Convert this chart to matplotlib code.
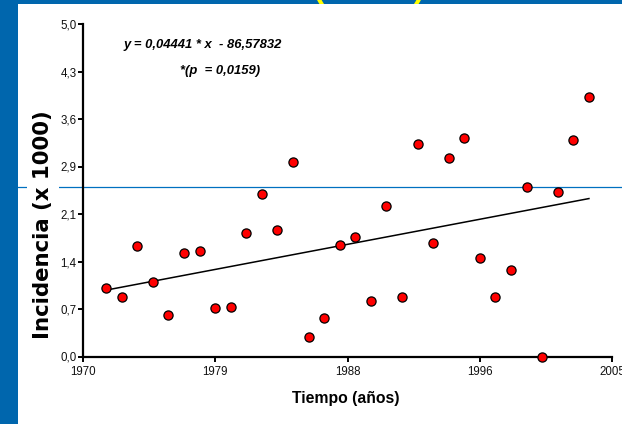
import matplotlib
matplotlib.use('Agg')
import matplotlib.pyplot as plt
from matplotlib.patches import Rectangle
from matplotlib.lines import Line2D
import numpy as np

# ---------------- data ----------------
years = list(range(1972, 2004))
incidencia = [1.03, 0.89, 1.66, 1.12, 0.62, 1.56, 1.58, 0.73, 0.75, 1.86,
              2.45, 1.90, 2.93, 0.29, 0.58, 1.68, 1.80, 0.83, 2.27, 0.89,
              3.19, 1.70, 2.99, 3.28, 1.48, 0.89, 1.30, 2.55, 0.00, 2.47,
              3.26, 3.90]
slope = 0.04441
intercept = -86.57832
x_tick_labels = ['1970', '1979', '1988', '1996', '2005']
y_tick_labels = ['0,0', '0,7', '1,4', '2,1', '2,9', '3,6', '4,3', '5,0']
x_range = (1970.5, 2004.5)
y_range = (0.0, 5.0)

equation_text = 'y = 0,04441 * x  - 86,57832'
p_text = '*(p  = 0,0159)'
x_label = 'Tiempo (años)'
y_label = 'Incidencia (x 1000)'

# ---------------- figure ----------------
W, H = 622, 424
BLUE = '#0066AD'
SANS = ['Liberation Sans', 'DejaVu Sans']

fig = plt.figure(figsize=(W / 100, H / 100), dpi=100)
fig.patch.set_facecolor(BLUE)

# white panel
fig.patches.append(Rectangle((18 / W, 0), 1 - 18 / W, 1 - 4 / H,
                             transform=fig.transFigure, facecolor='white',
                             edgecolor='none', zorder=-1))

# clipped yellow title fragments
for xp, ch in [(318, '('), (419, ')')]:
    fig.text(xp / W, 1 + 3 / H, ch, color='#FFFF00', fontsize=24,
             fontweight='bold', ha='center', va='baseline',
             family=SANS, zorder=-2)

left, right = 82.7, 612.3
top, bottom = 24.0, 356.5
ax = fig.add_axes([left / W, 1 - bottom / H, (right - left) / W, (bottom - top) / H])
ax.set_facecolor('none')

xs = np.array(years, dtype=float)
fitted = slope * xs + intercept
ax.plot(xs, fitted, color='black', lw=1.1, zorder=2, clip_on=False)
ax.plot(xs, incidencia, 'o', ms=6.6, mfc='#FF0000', mec='black', mew=0.9,
        zorder=4, clip_on=False)

# horizontal blue rule across the slide
ax.add_line(Line2D([18 / W, 1], [1 - 186.7 / H] * 2, transform=fig.transFigure,
                   color='#0070C0', lw=0.9, zorder=1, clip_on=False))

ax.set_xlim(*x_range)
ax.set_ylim(*y_range)
ax.set_xticks(np.linspace(x_range[0], x_range[1], len(x_tick_labels)))
ax.set_xticklabels(x_tick_labels)
ax.set_yticks(np.linspace(y_range[0], y_range[1], len(y_tick_labels)))
ax.set_yticklabels(y_tick_labels)

for s in ['top', 'right']:
    ax.spines[s].set_visible(False)
for s in ['left', 'bottom']:
    ax.spines[s].set_linewidth(1.6)
    ax.spines[s].set_color('black')

ax.tick_params(axis='both', direction='out', length=3.5, width=1.4, colors='black',
               labelsize=8.3)
ax.tick_params(axis='y', pad=0.8)
ax.tick_params(axis='x', pad=3.0)
for lab in ax.get_xticklabels() + ax.get_yticklabels():
    lab.set_family(SANS)
    lab.set_color('#111111')

# axis labels
fig.text(346 / W, 1 - 398.5 / H, x_label, ha='center', va='center',
         fontsize=11.3, fontweight='bold', family=SANS)
fig.text(43 / W, 1 - 225 / H, y_label, ha='center', va='center', rotation=90,
         fontsize=15.3, fontweight='bold', family=['DejaVu Sans'],
         bbox=dict(facecolor='white', edgecolor='none', pad=4), zorder=5)

# equation
fig.text(203 / W, 1 - 45 / H, equation_text, ha='center', va='center',
         fontsize=9.4, fontweight='bold', fontstyle='italic', family=SANS)
fig.text(220 / W, 1 - 71 / H, p_text, ha='center', va='center',
         fontsize=9.4, fontweight='bold', fontstyle='italic', family=SANS)

fig.savefig('out.png', dpi=100, facecolor=fig.get_facecolor())
